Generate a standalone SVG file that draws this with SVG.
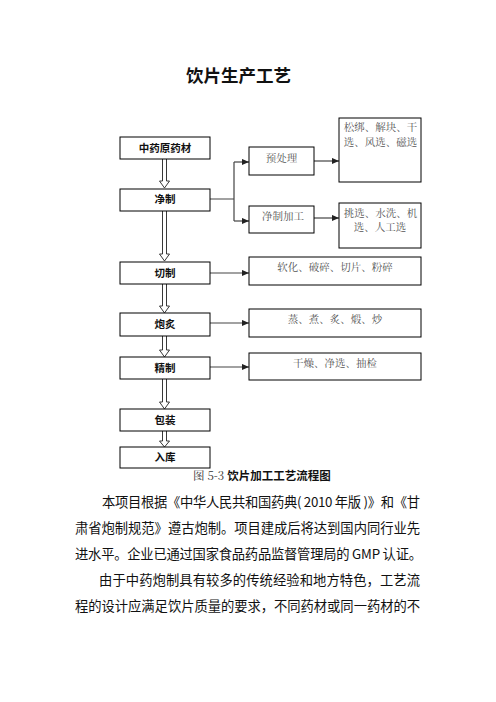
<svg xmlns="http://www.w3.org/2000/svg" width="496" height="702" viewBox="0 0 496 702">
<defs>
<marker id="ah" viewBox="0 0 8 8" refX="8" refY="4" markerWidth="7" markerHeight="7" markerUnits="userSpaceOnUse" orient="auto">
<path d="M0,0.5 L8,4 L0,7.5 Z" fill="#222"/>
</marker>
</defs>
<style>
.box{fill:#fff;stroke:#000;stroke-width:1}
.lt{font-family:"Noto Sans CJK SC","Noto Sans",sans-serif;font-size:10.5px;font-weight:bold;fill:#111;text-anchor:middle}
.rt{font-family:"Noto Serif CJK SC","Noto Sans CJK SC",serif;font-size:10.5px;fill:#555;text-anchor:middle}
.con{fill:none;stroke:#444;stroke-width:1.2}
.hol{fill:#fff;stroke:#222;stroke-width:0.9}
.body{font-family:"Noto Sans CJK SC","Noto Sans",sans-serif;font-size:13.3px;fill:#111}
</style>
<rect width="496" height="702" fill="#fff"/>
<text x="238.5" y="82" font-family="Noto Sans CJK SC, sans-serif" font-size="17.5" font-weight="bold" text-anchor="middle" fill="#111">饮片生产工艺</text>

<g id="connectors">
<path class="hol" d="M162.5,159 V181 H159.5 L164.5,188 L169.5,181 H166.5 V159"/>
<path class="hol" d="M162.5,211 V254 H159.5 L164.5,261 L169.5,254 H166.5 V211"/>
<path class="hol" d="M162.5,284 V306 H159.5 L164.5,313 L169.5,306 H166.5 V284"/>
<path class="hol" d="M162.5,336 V350 H159.5 L164.5,357 L169.5,350 H166.5 V336"/>
<path class="hol" d="M162.5,379 V402 H159.5 L164.5,409 L169.5,402 H166.5 V379"/>
<path class="hol" d="M162.5,431 V441 H159.5 L164.5,447 L169.5,441 H166.5 V431"/>
<path class="con" d="M210,199 H234 M234,162 V221"/>
<path class="con" d="M234,162 H249" marker-end="url(#ah)"/>
<path class="con" d="M234,221 H249" marker-end="url(#ah)"/>
<path class="con" d="M314,161 H339" marker-end="url(#ah)"/>
<path class="con" d="M314,218 H339" marker-end="url(#ah)"/>
<path class="con" d="M210,273 H249" marker-end="url(#ah)"/>
<path class="con" d="M210,323 H249" marker-end="url(#ah)"/>
<path class="con" d="M210,367 H249" marker-end="url(#ah)"/>
</g>

<g id="n1"><rect class="box" x="120" y="137" width="90" height="22"/><text class="lt" x="165" y="152">中药原药材</text></g>
<g id="n2"><rect class="box" x="120" y="189" width="90" height="22"/><text class="lt" x="165" y="203">净制</text></g>
<g id="n3"><rect class="box" x="120" y="262" width="90" height="22"/><text class="lt" x="165" y="277">切制</text></g>
<g id="n4"><rect class="box" x="120" y="313" width="90" height="23"/><text class="lt" x="165" y="328">炮炙</text></g>
<g id="n5"><rect class="box" x="120" y="357" width="90" height="22"/><text class="lt" x="165" y="372">精制</text></g>
<g id="n6"><rect class="box" x="120" y="409" width="90" height="22"/><text class="lt" x="165" y="424">包装</text></g>
<g id="n7"><rect class="box" x="120" y="447" width="90" height="21"/><text class="lt" x="165" y="461">入库</text></g>

<g id="p1"><rect class="box" x="249" y="147" width="65" height="28"/><text class="rt" x="281.5" y="162">预处理</text></g>
<g id="p2"><rect class="box" x="249" y="206" width="65" height="27"/><text class="rt" x="283" y="220">净制加工</text></g>
<g id="p3"><rect class="box" x="339" y="118" width="82" height="64"/><text class="rt" x="380.5" y="131">松绑、解块、干</text><text class="rt" x="380.5" y="146">选、风选、磁选</text></g>
<g id="p4"><rect class="box" x="339" y="203" width="82" height="45"/><text class="rt" x="380.5" y="217">挑选、水洗、机</text><text class="rt" x="380" y="231">选、人工选</text></g>
<g id="p5"><rect class="box" x="249" y="257" width="172" height="28"/><text class="rt" x="335" y="271">软化、破碎、切片、粉碎</text></g>
<g id="p6"><rect class="box" x="249" y="309" width="172" height="28"/><text class="rt" x="335" y="323">蒸、煮、炙、煅、炒</text></g>
<g id="p7"><rect class="box" x="249" y="353" width="172" height="27"/><text class="rt" x="335" y="367">干燥、净选、抽检</text></g>

<text x="193" y="480" font-size="11.5" fill="#333" font-family="Noto Serif CJK SC, Noto Sans CJK SC, serif">图 5-3 <tspan font-weight="bold" fill="#111" font-family="Noto Sans CJK SC, sans-serif">饮片加工工艺流程图</tspan></text>

<text class="body" x="102" y="507" textLength="318" lengthAdjust="spacing">本项目根据《中华人民共和国药典( 2010 年版 )》和《甘</text>
<text class="body" x="75" y="533" textLength="345" lengthAdjust="spacing">肃省炮制规范》遵古炮制。项目建成后将达到国内同行业先</text>
<text class="body" x="75" y="559" textLength="347" lengthAdjust="spacing">进水平。企业已通过国家食品药品监督管理局的 GMP 认证。</text>
<text class="body" x="99" y="585" textLength="321" lengthAdjust="spacing">由于中药炮制具有较多的传统经验和地方特色，工艺流</text>
<text class="body" x="75" y="611" textLength="345" lengthAdjust="spacing">程的设计应满足饮片质量的要求，不同药材或同一药材的不</text>
</svg>
